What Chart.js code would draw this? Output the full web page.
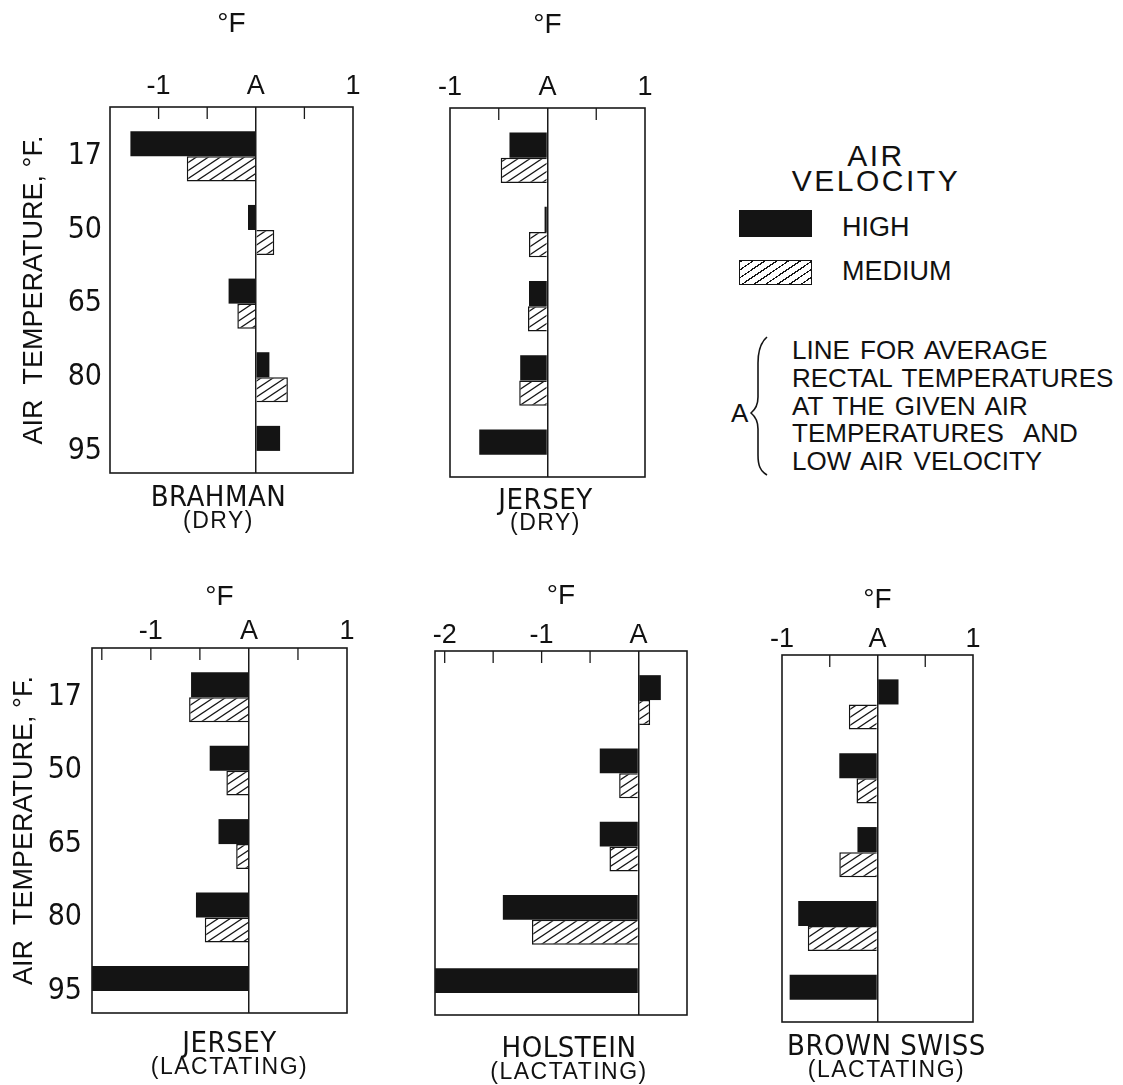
<!DOCTYPE html>
<html>
<head>
<meta charset="utf-8">
<title>Rectal temperature deviations by air velocity</title>
<script src="https://cdn.jsdelivr.net/npm/chart.js@4.4.1/dist/chart.umd.min.js"></script>
<style>
  html, body { margin: 0; padding: 0; background: #fff; }
  #sheet { position: relative; width: 1123px; height: 1085px; overflow: hidden;
           font-family: 'Liberation Sans', Arial, sans-serif; color: #111; }
  #sheet canvas { position: absolute; }
  .key { position: absolute; white-space: pre; }
  .swatch { position: absolute; box-sizing: border-box; }
</style>
</head>
<body>
<div id="sheet">
  <div class="key" style="left:776px; top:143px; width:200px; text-align:center; font-size:30px; line-height:25px; letter-spacing:2.5px;">AIR
VELOCITY</div>
  <div class="swatch" style="left:739px; top:210px; width:73px; height:27px; background:#141414;"></div>
  <div class="key" style="left:842px; top:214px; font-size:27px; line-height:27px;">HIGH</div>
  <div class="swatch" style="left:739px; top:260px; width:73px; height:25px; border:1.5px solid #141414;
       background:repeating-linear-gradient(146deg, #141414 0 1.3px, #fff 1.3px 6.6px);"></div>
  <div class="key" style="left:842px; top:258px; font-size:27px; line-height:27px;">MEDIUM</div>
  <div class="key" style="left:731px; top:399px; font-size:26px; line-height:28px;">A</div>
  <svg style="position:absolute; left:748px; top:335px;" width="24" height="142" viewBox="0 0 24 142">
    <path d="M19 2 C12 8 10 16 10 28 L10 62 C10 70 8 74 3 78 C8 82 10 86 10 94 L10 120 C10 130 12 136 19 140"
          fill="none" stroke="#141414" stroke-width="1.6"/>
  </svg>
  <div class="key" style="left:792px; top:337px; font-size:26px; line-height:27.75px; word-spacing:3px;">LINE FOR AVERAGE
RECTAL TEMPERATURES
AT THE GIVEN AIR
TEMPERATURES  AND
LOW AIR VELOCITY</div>
</div>

<script>
// Luftgeschwindigkeit-Versuch: Abweichung der Rektaltemperatur (°F) von Linie A
const airTemps = ['17', '50', '65', '80', '95'];
const seriesNames = ['HIGH', 'MEDIUM'];

const brahmanDryHigh   = [-1.29, -0.08, -0.28, 0.14, 0.25];
const brahmanDryMedium = [-0.71, 0.19, -0.19, 0.33, null];
const jerseyDryHigh    = [-0.39, -0.03, -0.19, -0.28, -0.70];
const jerseyDryMedium  = [-0.48, -0.19, -0.20, -0.29, null];
const jerseyLactHigh   = [-0.59, -0.40, -0.31, -0.54, -1.60];
const jerseyLactMedium = [-0.61, -0.23, -0.13, -0.45, null];
const holsteinHigh     = [0.23, -0.40, -0.40, -1.40, -2.10];
const holsteinMedium   = [0.12, -0.20, -0.30, -1.10, null];
const brownSwissHigh   = [0.22, -0.40, -0.21, -0.83, -0.92];
const brownSwissMedium = [-0.30, -0.22, -0.40, -0.73, null];

const ticksBrahman    = [-1.5, -1, -0.5, 0, 0.5, 1];
const ticksOneOne     = [-1, -0.5, 0, 0.5, 1];
const ticksJerseyLact = [-1.5, -1, -0.5, 0, 0.5, 1];
const ticksHolstein   = [-2, -1.5, -1, -0.5, 0, 0.5];

const narrow = "'Liberation Sans Narrow', 'DejaVu Sans Condensed', 'Liberation Sans', sans-serif";
const plain = "'Liberation Sans', Arial, sans-serif";
Chart.defaults.font.family = plain;
Chart.defaults.color = '#111';

// Schraffur fuer MEDIUM
function makeHatch() {
    const c = document.createElement('canvas');
    c.width = 12; c.height = 8;
    const g = c.getContext('2d');
    g.fillStyle = '#fff';
    g.fillRect(0, 0, 12, 8);
    g.strokeStyle = '#141414';
    g.lineWidth = 1.3;
    for (let k = 0; k < 3; k++) {
        g.beginPath();
        g.moveTo(-12, 8 * k + 8);
        g.lineTo(24, 8 * k - 16);
        g.stroke();
    }
    return g.createPattern(c, 'repeat');
}
const hatchFill = makeHatch();

// Rahmen + kleine Striche innen oben
const framePlugin = {
    id: 'frame',
    afterDatasetsDraw(chart) {
        const { ctx, chartArea: a } = chart;
        const x = chart.scales.x;
        ctx.save();
        ctx.strokeStyle = '#1a1a1a';
        ctx.lineWidth = 1.6;
        ctx.strokeRect(a.left, a.top, a.right - a.left, a.bottom - a.top);
        ctx.lineWidth = 1.3;
        x.ticks.forEach(t => {
            if (t.value === 0 || t.value <= x.min || t.value >= x.max) return;
            const px = x.getPixelForValue(t.value);
            ctx.beginPath();
            ctx.moveTo(px, a.top);
            ctx.lineTo(px, a.top + 12);
            ctx.stroke();
        });
        ctx.restore();
    }
};

// Rassenname unter dem Rahmen
const captionPlugin = {
    id: 'caption',
    afterDraw(chart, args, o) {
        const { ctx, chartArea: a } = chart;
        const cx = (a.left + a.right) / 2 + o.shift;
        ctx.save();
        ctx.fillStyle = '#111';
        ctx.textAlign = 'center';
        ctx.textBaseline = 'middle';
        ctx.font = '29px ' + narrow;
        ctx.letterSpacing = '0.5px';
        ctx.fillText(o.name, cx, a.bottom + o.capGap);
        ctx.font = '23px ' + plain;
        ctx.letterSpacing = '1.5px';
        ctx.fillText(o.state, cx, a.bottom + o.subGap);
        ctx.restore();
    }
};

function points(values) {
    return values.map((v, i) => ({ x: v, y: i })).filter(p => p.x !== null);
}

const panels = [
    { name: 'BRAHMAN', state: '(DRY)', high: brahmanDryHigh, medium: brahmanDryMedium,
      ticks: ticksBrahman, min: -1.5, max: 1, showY: true,
      box: { left: 0, top: 0, width: 380, height: 560 },
      area: { left: 110, top: 107, right: 353, bottom: 473 },
      xTitlePad: 10, xTickPad: 7, yTitlePad: 21.5, yTickPad: 8, capGap: 25, subGap: 49, shift: -13 },
    { name: 'JERSEY', state: '(DRY)', high: jerseyDryHigh, medium: jerseyDryMedium,
      ticks: ticksOneOne, min: -1, max: 1, showY: false,
      box: { left: 420, top: 0, width: 250, height: 560 },
      area: { left: 450, top: 108, right: 645, bottom: 477 },
      xTitlePad: 11, xTickPad: 6.5, capGap: 24, subGap: 47, shift: -2 },
    { name: 'JERSEY', state: '(LACTATING)', high: jerseyLactHigh, medium: jerseyLactMedium,
      ticks: ticksJerseyLact, min: -1.6, max: 1, showY: true,
      box: { left: 0, top: 560, width: 375, height: 525 },
      area: { left: 92, top: 648, right: 347, bottom: 1013 },
      xTitlePad: 23, xTickPad: 3, yTitlePad: 11.5, yTickPad: 10, capGap: 31, subGap: 55, shift: 10 },
    { name: 'HOLSTEIN', state: '(LACTATING)', high: holsteinHigh, medium: holsteinMedium,
      ticks: ticksHolstein, min: -2.1, max: 0.5, showY: false,
      box: { left: 410, top: 560, width: 310, height: 525 },
      area: { left: 435, top: 651, right: 687, bottom: 1015 },
      xTitlePad: 22, xTickPad: 2, capGap: 34, subGap: 58, shift: 8 },
    { name: 'BROWN SWISS', state: '(LACTATING)', high: brownSwissHigh, medium: brownSwissMedium,
      ticks: ticksOneOne, min: -1, max: 1, showY: false,
      box: { left: 750, top: 560, width: 260, height: 525 },
      area: { left: 782, top: 655, right: 973, bottom: 1022 },
      xTitlePad: 26, xTickPad: 2, capGap: 25, subGap: 49, shift: 9 }
];

function drawPanel(p) {
    const cv = document.createElement('canvas');
    cv.width = p.box.width;
    cv.height = p.box.height;
    cv.style.left = p.box.left + 'px';
    cv.style.top = p.box.top + 'px';
    document.getElementById('sheet').appendChild(cv);

    const yWidth = p.area.left - p.box.left;

    new Chart(cv, {
        type: 'bar',
        data: {
            datasets: [
                { label: seriesNames[0], data: points(p.high), backgroundColor: '#141414', borderWidth: 0 },
                { label: seriesNames[1], data: points(p.medium), backgroundColor: hatchFill,
                  borderColor: '#141414', borderWidth: 1.5 }
            ]
        },
        options: {
            indexAxis: 'y',
            responsive: false,
            animation: false,
            events: [],
            categoryPercentage: 0.68,
            barPercentage: 1,
            layout: {
                padding: { left: p.showY ? 0 : yWidth, right: p.box.left + p.box.width - p.area.right,
                           top: 0, bottom: p.box.top + p.box.height - p.area.bottom }
            },
            datasets: { bar: { clip: false, borderSkipped: 'start' } },
            scales: {
                x: {
                    type: 'linear', position: 'top', min: p.min, max: p.max,
                    afterBuildTicks: s => { s.ticks = p.ticks.map(v => ({ value: v })); },
                    afterFit: s => { s.height = p.area.top - p.box.top; },
                    ticks: {
                        autoSkip: false, maxRotation: 0, padding: p.xTickPad,
                        font: { size: 27, lineHeight: 1 },
                        callback: v => v === 0 ? 'A' : (Number.isInteger(v) ? String(v) : '')
                    },
                    grid: {
                        drawTicks: false, lineWidth: 1.5,
                        color: c => (c.tick && c.tick.value === 0) ? '#1a1a1a' : 'rgba(0,0,0,0)'
                    },
                    border: { display: false },
                    title: { display: true, text: '°F', font: { size: 28, lineHeight: 1 },
                             padding: { top: p.xTitlePad, bottom: 0 } }
                },
                y: {
                    type: 'linear', reverse: true, offset: false, min: -0.67, max: 4.3, display: p.showY,
                    afterBuildTicks: s => { s.ticks = airTemps.map((t, i) => ({ value: i })); },
                    afterFit: s => { if (p.showY) s.width = yWidth; },
                    ticks: { padding: p.yTickPad || 8, font: { family: narrow, size: 30, lineHeight: 1 },
                             callback: (v, i) => airTemps[i] },
                    grid: { display: false, drawTicks: false, offset: false },
                    border: { display: false },
                    title: { display: p.showY, text: 'AIR  TEMPERATURE, °F.',
                             font: { size: 27, lineHeight: 1 },
                             padding: { top: p.yTitlePad || 0, bottom: 0 } }
                }
            },
            plugins: {
                legend: { display: false },
                tooltip: { enabled: false },
                caption: { name: p.name, state: p.state, shift: p.shift, capGap: p.capGap, subGap: p.subGap }
            }
        },
        plugins: [framePlugin, captionPlugin]
    });
}

panels.forEach(drawPanel);
</script>
</body>
</html>
